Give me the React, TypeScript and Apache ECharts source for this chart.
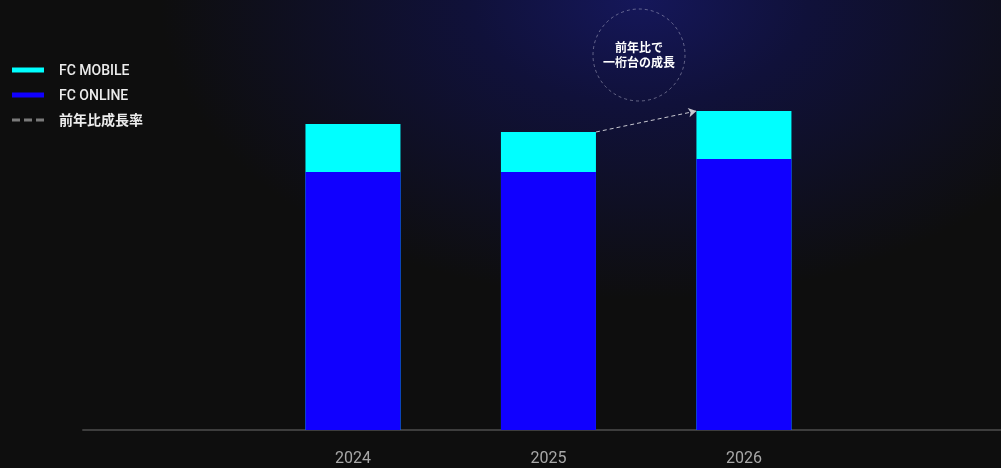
import React, { useEffect, useRef } from "react";
import * as echarts from "echarts";

const years = [2024, 2025, 2026];
const fcOnline = [258, 258, 271];
const fcMobile = [48, 40, 48];
const seriesNames = ["FC MOBILE", "FC ONLINE", "前年比成長率"];
const noteText = "前年比で\n一桁台の成長";

const FONT = "Roboto, 'Noto Sans CJK JP', sans-serif";

export default function App() {
  const ref = useRef<HTMLDivElement>(null);
  useEffect(() => {
    document.body.style.margin = "0";
    document.body.style.background = "#0e0e0e";
    const chart = echarts.init(ref.current!, null, { renderer: "svg" });
    const totals = years.map((_, i) => fcOnline[i] + fcMobile[i]);
    const halfBar = 47.5 / 195.5;
    chart.setOption({
      animation: false,
      backgroundColor: "transparent",
      textStyle: { fontFamily: FONT },
      grid: { left: 83, right: 0, top: 0, bottom: 38 },
      legend: {
        orient: "vertical",
        left: 12,
        top: 63,
        padding: 0,
        itemWidth: 32,
        itemHeight: 5,
        itemGap: 11,
        itemTextGap: 15,
        textStyle: {
          color: "#ececec",
          fontSize: 14,
          fontFamily: FONT,
          fontWeight: 500,
          padding: [0, 0, 0, 10],
        },
        data: [
          { name: seriesNames[0], icon: "rect" },
          { name: seriesNames[1], icon: "rect" },
          {
            name: seriesNames[2],
            icon: "path://M0,0h8v3h-8z M12,0h8v3h-8z M24,0h8v3h-8z",
            itemStyle: { color: "#7a7a7a" },
            textStyle: { fontWeight: "bold" },
          },
        ],
      },
      xAxis: {
        type: "value",
        min: 2022.619,
        max: 2027.315,
        splitLine: { show: false },
        axisTick: { show: false },
        axisLine: { show: true, onZero: false, lineStyle: { color: "#3d3d3d", width: 2 } },
        axisLabel: {
          customValues: years,
          formatter: (v: number) => String(v),
          color: "#a8a8a8",
          fontSize: 16,
          margin: 19,
          fontFamily: FONT,
        },
      },
      yAxis: {
        type: "value",
        min: 0,
        max: 430,
        show: false,
        splitLine: { show: false },
      },
      series: [
        {
          name: seriesNames[0],
          type: "bar",
          barWidth: 95,
          barGap: "-100%",
          z: 2,
          itemStyle: { color: "#00ffff" },
          data: years.map((y, i) => [y, totals[i]]),
          markLine: {
            silent: true,
            symbol: ["none", "arrow"],
            symbolSize: [7, 8],
            label: { show: false },
            lineStyle: { color: "#c8c8d0", type: [4, 3], width: 1 },
            data: [
              [
                { coord: [years[1] + halfBar, totals[1]] },
                { coord: [years[2] - halfBar, totals[2]] },
              ],
            ],
          },
        },
        {
          name: seriesNames[1],
          type: "bar",
          barWidth: 95,
          barGap: "-100%",
          z: 3,
          itemStyle: { color: "#1000ff" },
          data: years.map((y, i) => [y, fcOnline[i]]),
        },
        {
          name: seriesNames[2],
          type: "line",
          symbol: "none",
          data: [],
          itemStyle: { color: "#7a7a7a" },
          lineStyle: { color: "#7a7a7a", type: [8, 4], width: 3 },
        },
      ],
      graphic: [
        {
          type: "circle",
          shape: { cx: 639, cy: 55, r: 46 },
          style: { fill: "none", stroke: "rgba(200,200,220,0.45)", lineWidth: 1, lineDash: [3, 3] },
        },
        {
          type: "text",
          x: 639,
          y: 55,
          style: {
            text: noteText,
            fill: "#ffffff",
            fontSize: 12,
            fontWeight: "bold",
            fontFamily: FONT,
            align: "center",
            verticalAlign: "middle",
            lineHeight: 15,
          },
        },
      ],
    });
    return () => chart.dispose();
  }, []);
  return (
    <div
      style={{
        position: "fixed",
        left: 0,
        top: 0,
        width: 1001,
        height: 468,
        background:
          "radial-gradient(ellipse 480px 300px at 640px 0px, #15175a 0%, #10113a 35%, #0e0e0e 100%)",
      }}
    >
      <div ref={ref} style={{ width: 1001, height: 468 }} />
    </div>
  );
}
